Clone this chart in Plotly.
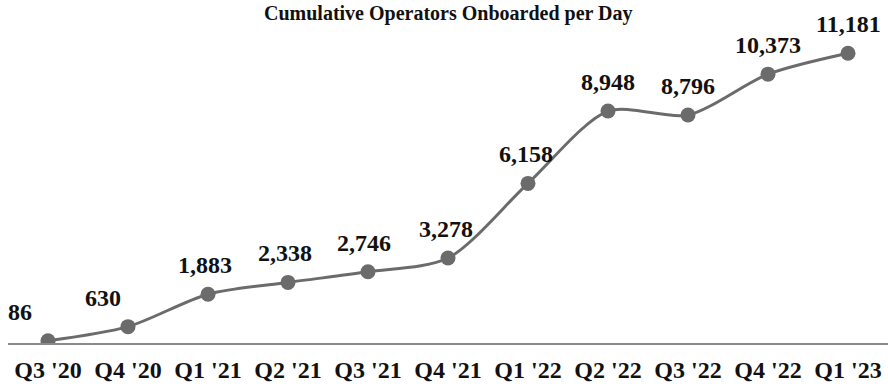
import plotly.graph_objects as go

quarters = ["Q3 '20", "Q4 '20", "Q1 '21", "Q2 '21", "Q3 '21", "Q4 '21",
            "Q1 '22", "Q2 '22", "Q3 '22", "Q4 '22", "Q1 '23"]
values = [86, 630, 1883, 2338, 2746, 3278, 6158, 8948, 8796, 10373, 11181]
title_text = "Cumulative Operators Onboarded per Day"

# label horizontal offsets (style only)
label_xshift = [-28, -25, -3, -3, -4, -2, -2, 0, 0, 0, 0]

font_family = "Liberation Serif, Times New Roman, serif"

fig = go.Figure()
fig.add_trace(go.Scatter(
    x=quarters, y=values, mode="lines+markers",
    line=dict(color="#6b6b6b", width=3, shape="spline", smoothing=0.8),
    marker=dict(color="#6b6b6b", size=15),
    hoverinfo="skip", showlegend=False,
))

for q, v, dx in zip(quarters, values, label_xshift):
    fig.add_annotation(
        x=q, y=v, text=f"{v:,}", showarrow=False,
        xanchor="center", yanchor="middle", xshift=dx, yshift=29,
        font=dict(family=font_family, size=24, color="#111111"),
    )

fig.add_annotation(
    x=0.5, y=1, xref="paper", yref="paper", xanchor="center", yanchor="top",
    yshift=19, text=f"<b>{title_text}</b>", showarrow=False,
    font=dict(family=font_family, size=20, color="#111111"),
)

fig.update_layout(
    width=888, height=387,
    margin=dict(l=8, r=0, t=19, b=44),
    paper_bgcolor="white", plot_bgcolor="white",
    font=dict(family=font_family, color="#111111"),
    xaxis=dict(
        type="category", range=[-0.5, 10.5], showgrid=False, zeroline=False,
        showline=True, linecolor="#8a8a8a", linewidth=2,
        ticks="", tickfont=dict(family=font_family, size=24, color="#111111", weight="bold"),
        ticklabelstandoff=4,
    ),
    yaxis=dict(range=[0, 12500], visible=False, showgrid=False, zeroline=False),
)
fig.update_annotations(font_weight="bold")

fig.write_html("out.html")
